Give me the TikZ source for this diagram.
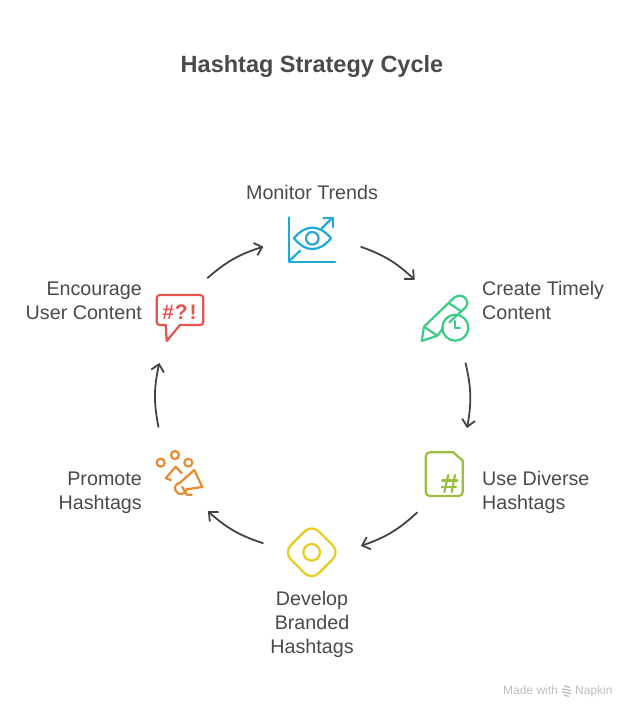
\documentclass[tikz,border=0pt]{standalone}
\usepackage{fontspec}
\setmainfont{Liberation Sans}
\usetikzlibrary{arrows.meta}
\definecolor{txtgray}{HTML}{4A4A4A}
\definecolor{arrowgray}{HTML}{424242}
\definecolor{markgray}{HTML}{BDBDBD}
\definecolor{iconblue}{HTML}{1FA9D6}
\definecolor{icongreen}{HTML}{3CCB85}
\definecolor{iconolive}{HTML}{9ABF3E}
\definecolor{iconyellow}{HTML}{E6CB22}
\definecolor{iconorange}{HTML}{E58B30}
\definecolor{iconred}{HTML}{E5544F}
\tikzset{
    hub/.style={circle, minimum size=98pt, inner sep=0pt},
    cyc/.style={draw=arrowgray, line width=1.8pt, -{Straight Barb[length=7pt,width=13pt]}, bend left=12},
    lab/.style={text=txtgray, font=\fontsize{19.7}{24}\selectfont, inner sep=0pt},
    ico/.style={line width=2.2pt, line join=round, line cap=round},
    foot/.style={text=markgray, inner sep=0pt, anchor=base west, font=\fontsize{12}{14}\selectfont}
}

\begin{document}
\begin{tikzpicture}[x=1pt, y=-1pt]
                \useasboundingbox (0,0) rectangle (636,718);
                \node[text=txtgray, font=\fontsize{23.5}{28}\bfseries\selectfont, inner sep=0pt] (title) at (312,66.5) {Hashtag Strategy Cycle};

                \node[hub] (monitor) at (312,239) {};
                \node[hub] (create) at (447,317) {};
                \node[hub] (diverse) at (447,473) {};
                \node[hub] (develop) at (312,551) {};
                \node[hub] (promote) at (177,473) {};
                \node[hub] (encourage) at (177,317) {};

                \draw[cyc] (monitor.-9) to (create.131);
                \draw[cyc] (create.-68) to (diverse.66);
                \draw[cyc] (diverse.-127) to (develop.6);
                \draw[cyc] (develop.171) to (promote.-51);
                \draw[cyc] (promote.112) to (encourage.-111);
                \draw[cyc] (encourage.52) to (monitor.189);

                \node[lab, align=center] (monitorlab) at (312,192.5) {Monitor Trends};
                \node[lab, align=left, anchor=west] (createlab) at (482,300.5) {Create Timely\\Content};
                \node[lab, align=left, anchor=west] (diverselab) at (482,492.5) {Use Diverse\\Hashtags};
                \node[lab, align=center] (developlab) at (312,624.5) {Develop\\Branded\\Hashtags};
                \node[lab, align=right, anchor=east] (promotelab) at (142,492.5) {Promote\\Hashtags};
                \node[lab, align=right, anchor=east] (encouragelab) at (142,300.5) {Encourage\\User Content};

                % eye and chart
                \draw[ico, iconblue] (288.7,217.3) -- (288.7,261.7) -- (335,261.7);
                \draw[ico, iconblue] (289.3,261) -- (300,250.7);
                \draw[ico, iconblue] (321.7,228.3) -- (332.7,217.7);
                \draw[ico, iconblue] (323.3,217.7) -- (332.7,217.7) -- (332.7,227);
                \draw[ico, iconblue] (294,238.3) .. controls (300,231) and (306,227.7) .. (312.3,227.7) .. controls (319,227.7) and (325,231) .. (331,238.3) .. controls (325,245.5) and (319,249) .. (312.3,249) .. controls (306,249) and (300,245.5) .. (294,238.3) -- cycle;
                \draw[ico, iconblue] (312.3,238.3) circle (6.3);

                % pencil and clock
                \draw[ico, icongreen] (443.3,328) -- (437.3,335.7) -- (421.7,341) -- (424,326.7) -- (451.7,300) .. controls (455,296) and (460,294) .. (464,297) .. controls (468,300) and (468,305) .. (466,306.7) -- (461.7,311) -- (449.3,322.3);
                \draw[ico, icongreen] (424,326.7) -- (437.3,335.7);
                \draw[ico, icongreen] (449.3,303.3) -- (460.7,311);
                \draw[ico, icongreen] (455.3,327.7) circle (13);
                \draw[ico, icongreen] (455.3,321) -- (455.3,327.7) -- (460,327.7);

                % file with hash
                \draw[ico, iconolive, rounded corners=4pt] (453.3,452.3) -- (425.7,452.3) -- (425.7,496) -- (462.7,496) -- (462.7,460.7);
                \draw[ico, iconolive, rounded corners=1pt] (453.3,452.3) -- (462.7,460.7);
                \draw[ico, iconolive] (448.3,475) -- (444.3,492);
                \draw[ico, iconolive] (455,475) -- (451.7,492);
                \draw[ico, iconolive] (442.3,480.5) -- (457.3,480.5);
                \draw[ico, iconolive] (441.7,487) -- (456,487);

                % rounded diamond
                \draw[ico, iconyellow, rounded corners=10pt] (311.7,524.3) -- (339.7,552.3) -- (311.7,580.3) -- (283.7,552.3) -- cycle;
                \draw[ico, iconyellow] (311.7,552.3) circle (8.3);

                % people and megaphone
                \draw[ico, iconorange] (160.7,462.7) circle (4);
                \draw[ico, iconorange] (175,455) circle (4);
                \draw[ico, iconorange] (188.3,462.7) circle (4);
                \draw[ico, iconorange] (171,480) -- (165.7,478.3) -- (175.7,466.7) -- (181.7,473.3);
                \draw[ico, iconorange] (194.3,470) -- (202.3,487) -- (186.7,489.3) .. controls (185,495) and (178,496) .. (175.5,490.5) .. controls (174,486) and (176,484) .. (180,482.7) -- (194.3,470);
                \draw[ico, iconorange] (182.3,487) -- (186.7,494.7) -- (191.7,494.7);

                % speech bubble
                \draw[ico, iconred, rounded corners=3pt] (165.7,325) -- (156.7,325) -- (156.7,295) -- (203.3,295) -- (203.3,325) -- (180,325);
                \draw[ico, iconred] (165.7,325) -- (166.7,341) -- (180,325);
                \node[text=iconred, inner sep=0pt, font=\fontsize{21}{21}\bfseries\selectfont] (bubbletxt) at (179.5,312) {\#\kern1pt?\kern2pt!};

                % footer mark
                \node[foot] (madewith) at (503,694.5) {Made with};
                \node[foot] (napkin) at (575,694.5) {Napkin};
                \foreach \yy/\xa/\xb in {686/564/570,689/562/571,692/562/571,695/564/569}
                    \draw[markgray, line width=1.3pt] (\xa,\yy) -- (\xb,\yy+1.5);
            \end{tikzpicture}
\end{document}
